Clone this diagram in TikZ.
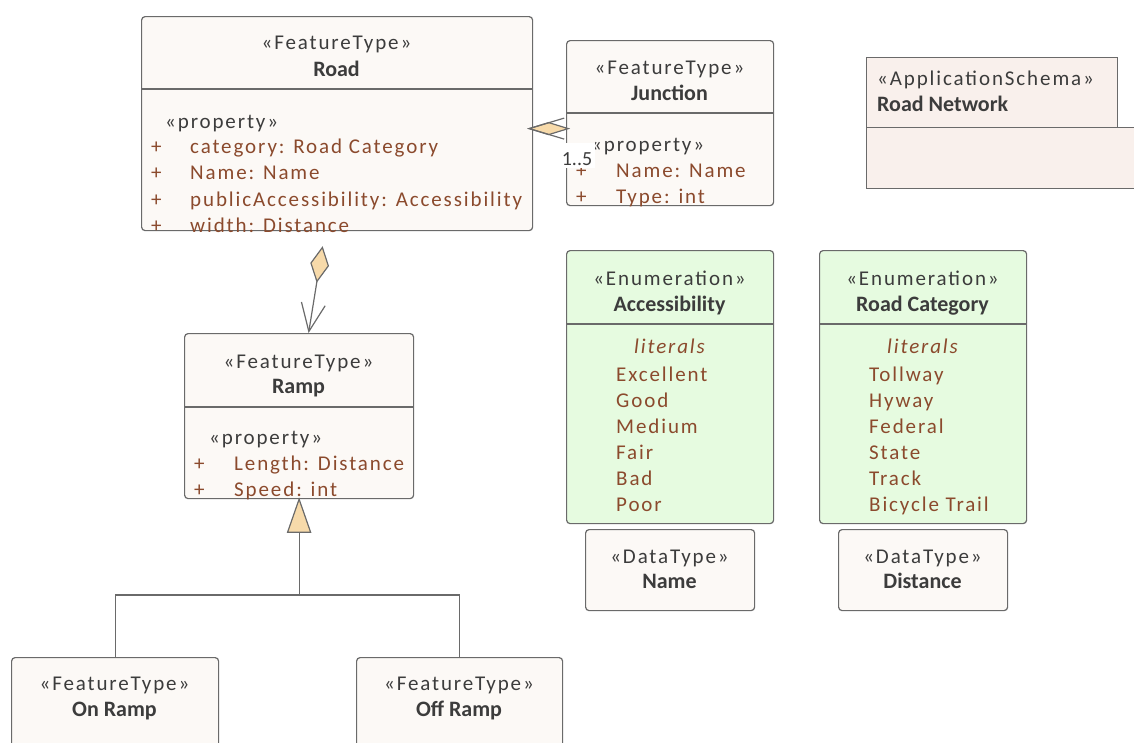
\documentclass[tikz,border=0pt]{standalone}
\usepackage{fontspec}
\usetikzlibrary{arrows.meta}
\setmainfont{Carlito}
\newfontfamily\spacedfont{Carlito}[LetterSpace=9]
\newfontfamily\plainfont{Carlito}
\definecolor{bordercol}{HTML}{6A6A6A}
\definecolor{classfill}{HTML}{FCF9F6}
\definecolor{pkgfill}{HTML}{F9F0EC}
\definecolor{enumfill}{HTML}{E6FBE0}
\definecolor{diamfill}{HTML}{F7DAAA}
\definecolor{txtdark}{HTML}{3C3C3C}
\definecolor{attrcol}{HTML}{8B4A2D}
\tikzset{
  box/.style={draw=bordercol, line width=1.2pt, fill=classfill, rounded corners=3.5pt,
    anchor=north west, inner sep=0pt},
  enumbox/.style={box, fill=enumfill},
  pkgbox/.style={draw=bordercol, line width=1.2pt, fill=pkgfill, anchor=north west, inner sep=0pt},
  divider/.style={draw=bordercol, line width=1.2pt},
  stereo/.style={text=txtdark, anchor=base, inner sep=0pt, font=\spacedfont\fontsize{21}{25}\selectfont},
  cname/.style={text=txtdark, anchor=base, inner sep=0pt, font=\plainfont\bfseries\fontsize{22}{26}\selectfont},
  attr/.style={text=attrcol, anchor=base west, inner sep=0pt, font=\spacedfont\fontsize{21}{25}\selectfont},
  litlabel/.style={attr, anchor=base, font=\spacedfont\itshape\fontsize{21}{25}\selectfont},
  conn/.style={draw=bordercol, line width=1.2pt},
  diam/.style={draw=bordercol, line width=1.2pt, fill=diamfill, line join=miter},
  mult/.style={fill=white, text=txtdark, anchor=base, inner xsep=0pt, inner ysep=0pt,
    text height=23pt, text depth=2.5pt, minimum width=36pt,
    font=\plainfont\fontsize{20}{24}\selectfont}
}
\begin{document}
\begin{tikzpicture}[x=1pt,y=-1pt]
\useasboundingbox (0,0) rectangle (1134,742);
\clip (0,0) rectangle (1134,742);

% ---- Road ----
\node[box, minimum width=391pt, minimum height=214pt] (road) at (141,16) {};
\draw[divider] ([yshift=-73pt]road.north west) -- ([yshift=-73pt]road.north east);
\node[stereo] (road-st) at (336.5,49) {«FeatureType»};
\node[cname] (road-nm) at (336.5,76) {Road};
\node[stereo, anchor=base west] (road-pr) at (165,128) {«property»};
\foreach \y/\t [count=\i] in {153/{category: Road Category},179/{Name: Name},
    206/{publicAccessibility: Accessibility},232/{width: Distance}} {
  \node[attr] (road-v\i) at (151,\y) {+};
  \node[attr] (road-a\i) at (190,\y) {\t};
}

% ---- Junction ----
\node[box, minimum width=207pt, minimum height=165pt] (junction) at (566,40) {};
\draw[divider] ([yshift=-73pt]junction.north west) -- ([yshift=-73pt]junction.north east);
\node[stereo] (junc-st) at (669.5,74.5) {«FeatureType»};
\node[cname] (junc-nm) at (669.5,100) {Junction};
\node[stereo, anchor=base west] (junc-pr) at (591,151) {«property»};
\foreach \y/\t [count=\i] in {177/{Name: Name},203/{Type: int}} {
  \node[attr] (junc-v\i) at (576,\y) {+};
  \node[attr] (junc-a\i) at (616,\y) {\t};
}

% ---- Application schema package ----
\node[pkgbox, minimum width=280pt, minimum height=61pt] (pkgbody) at (866,127) {};
\node[pkgbox, minimum width=251pt, minimum height=70pt] (pkgtab) at (866,57) {};
\node[stereo, anchor=base west] (pkg-st) at (877,85) {«ApplicationSchema»};
\node[cname, anchor=base west] (pkg-nm) at (877,111.5) {Road Network};

% ---- Ramp ----
\node[box, minimum width=229pt, minimum height=165pt] (ramp) at (184,333) {};
\draw[divider] ([yshift=-74pt]ramp.north west) -- ([yshift=-74pt]ramp.north east);
\node[stereo] (ramp-st) at (298.5,368) {«FeatureType»};
\node[cname] (ramp-nm) at (298.5,393.5) {Ramp};
\node[stereo, anchor=base west] (ramp-pr) at (209,444) {«property»};
\foreach \y/\t [count=\i] in {470.5/{Length: Distance},496.5/{Speed: int}} {
  \node[attr] (ramp-v\i) at (194,\y) {+};
  \node[attr] (ramp-a\i) at (234,\y) {\t};
}

% ---- Enumerations ----
\node[enumbox, minimum width=207pt, minimum height=273pt] (access) at (566,250) {};
\draw[divider] ([yshift=-74pt]access.north west) -- ([yshift=-74pt]access.north east);
\node[stereo] (acc-st) at (669.5,285) {«Enumeration»};
\node[cname] (acc-nm) at (669.5,311) {Accessibility};
\node[litlabel] (acc-lit) at (669.5,353.5) {literals};
\foreach \t [count=\i] in {Excellent,Good,Medium,Fair,Bad,Poor}
  \node[attr] (acc-l\i) at (616,{381+26.15*(\i-1)}) {\t};

\node[enumbox, minimum width=207pt, minimum height=273pt] (roadcat) at (819,250) {};
\draw[divider] ([yshift=-74pt]roadcat.north west) -- ([yshift=-74pt]roadcat.north east);
\node[stereo] (rc-st) at (922.5,285) {«Enumeration»};
\node[cname] (rc-nm) at (922.5,311) {Road Category};
\node[litlabel] (rc-lit) at (922.5,353.5) {literals};
\foreach \t [count=\i] in {Tollway,Hyway,Federal,State,Track,Bicycle Trail}
  \node[attr] (rc-l\i) at (869,{381+26.15*(\i-1)}) {\t};

% ---- Data types ----
\node[box, minimum width=169pt, minimum height=81pt] (name) at (585,529) {};
\node[stereo] (name-st) at (669.5,563) {«DataType»};
\node[cname] (name-nm) at (669.5,588.5) {Name};
\node[box, minimum width=169pt, minimum height=81pt] (distance) at (838,529) {};
\node[stereo] (dist-st) at (922.5,563) {«DataType»};
\node[cname] (dist-nm) at (922.5,588.5) {Distance};

% ---- Ramp subtypes ----
\node[box, minimum width=207pt, minimum height=120pt] (onramp) at (11,657) {};
\node[stereo] (on-st) at (114.5,690.5) {«FeatureType»};
\node[cname] (on-nm) at (114.5,716.5) {On Ramp};
\node[box, minimum width=206pt, minimum height=120pt] (offramp) at (356,657) {};
\node[stereo] (off-st) at (459,690.5) {«FeatureType»};
\node[cname] (off-nm) at (459,716.5) {Off Ramp};

% ---- Junction -> Road aggregation ----
\coordinate (jl) at ([yshift=-5.5pt]junction.west);
\coordinate (rr) at ([xshift=-4pt]road.east |- jl);
\draw[conn] (rr) -- (jl);
\filldraw[diam] (rr) -- ++(19.5,-6) -- ++(19.5,6) -- ++(-19.5,6) -- cycle;
\draw[conn] (rr) ++(35,-10.5) -- (rr) -- ++(35,10.5);
\node[mult] (mult) at (577,165.5) {1..5};

% ---- Road -> Ramp aggregation ----
\coordinate (rs) at ([xshift=-14.5pt,yshift=-15pt]road.south);
\coordinate (rn) at ([xshift=9.5pt]ramp.north);
\draw[conn, {Diamond[length=37pt,width=19pt,fill=diamfill,line width=1.2pt]}-{Straight Barb[length=28pt,width=24pt,line width=1.2pt]}]
  (rs) -- (rn);

% ---- Generalization Ramp <- On/Off Ramp ----
\coordinate (gen) at (ramp.south |- 0,595);
\draw[conn] (onramp.north) |- (gen) -| (offramp.north);
\draw[conn] (gen) -- ([yshift=-33pt]ramp.south);
\filldraw[diam] (ramp.south) -- ++(-11.5,33) -- ++(23,0) -- cycle;
\end{tikzpicture}
\end{document}
